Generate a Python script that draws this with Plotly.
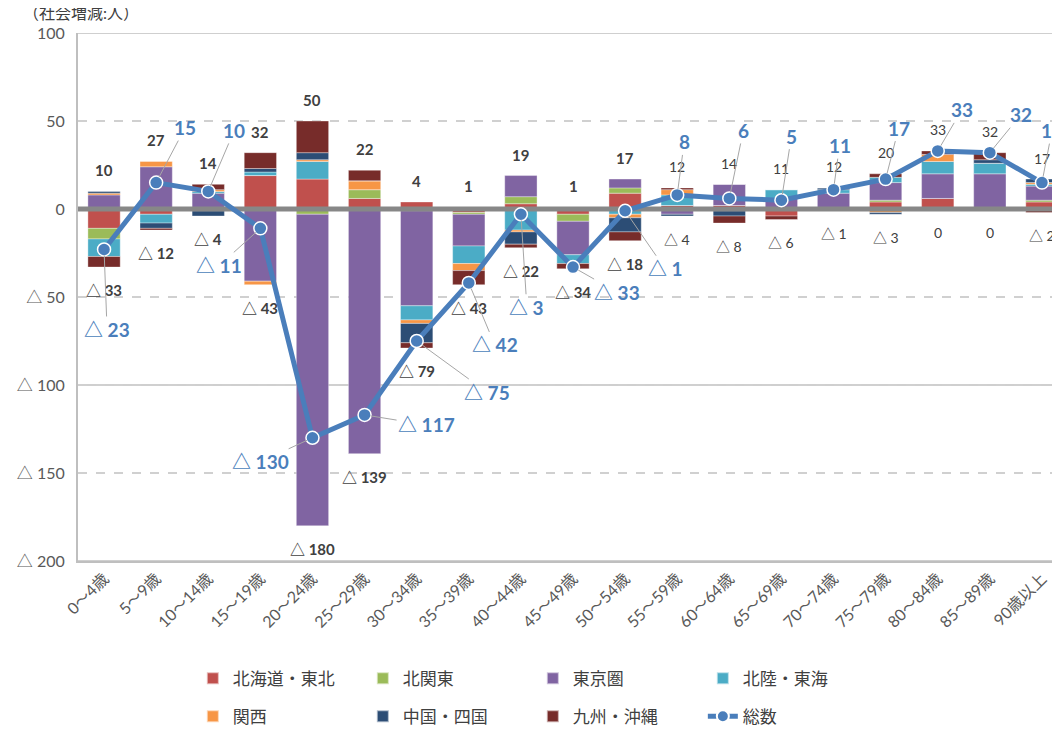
import plotly.graph_objects as go

# age groups
categories = ["0～4歳", "5～9歳", "10～14歳", "15～19歳", "20～24歳", "25～29歳",
              "30～34歳", "35～39歳", "40～44歳", "45～49歳", "50～54歳", "55～59歳",
              "60～64歳", "65～69歳", "70～74歳", "75～79歳", "80～84歳", "85～89歳",
              "90歳以上"]

# net migration by region (people)
hokkaido_tohoku = [-11, -3, -1, 19, 17, 6, 4, -2, 3, -3, 9, 2, 2, -4, -1, 4, 6, 0, 4]
kita_kanto = [-6, 0, 0, 0, -3, 5, -1, -1, 4, -4, 3, 0, 0, 0, 0, 1, 0, 0, 1]
tokyo_area = [8, 24, 9, -41, -177, -139, -54, -18, 12, -19, 5, -3, 12, 6, 9, 10, 14, 20, 8]
hokuriku_tokai = [-10, -5, 1, 2, 10, 0, -8, -10, -12, -5, -3, 6, -1, 5, 2, 3, 7, 6, 1]
kansai = [1, 3, 1, -2, 1, 5, -2, -4, -1, 0, -2, 3, 0, 0, 0, -2, 4, 0, 1]
chugoku_shikoku = [1, -3, -3, 2, 4, 0, -11, 1, -7, 1, -8, -1, -3, 0, 1, -1, 0, 2, 2]
kyushu_okinawa = [-6, -1, 3, 9, 18, 6, -3, -8, -2, -3, -5, 1, -4, -2, 0, 2, 2, 4, -2]

region_names = ["北海道・東北", "北関東", "東京圏", "北陸・東海", "関西", "中国・四国", "九州・沖縄"]
region_values = [hokkaido_tohoku, kita_kanto, tokyo_area, hokuriku_tokai, kansai,
                 chugoku_shikoku, kyushu_okinawa]
region_colors = ["#c0504d", "#9bbb59", "#8064a2", "#4bacc6", "#f79646", "#2c4d75", "#772c2a"]

y_ticks = [100, 50, 0, -50, -100, -150, -200]

# label placement (pixel offsets of total labels from their points)
total_label_offsets = [(3, 80), (29, -55), (26, -61), (-41, 37), (-52, 24), (62, 10),
                       (70, 51), (26, 62), (6, 93), (44, 25), (40, 58), (7, -53),
                       (14, -68), (10, -64), (6, -44), (13, -51), (24, -41), (31, -38),
                       (10, -52)]

BLUE = "#4a7ebb"
TEXT = "#404040"
FONT = "Lato, 'Noto Sans CJK JP', sans-serif"


def tri(v):
    return "0" if v == 0 else ("△ %d" % abs(v) if v < 0 else "%d" % v)


x = list(range(len(categories)))
pos_sum = [sum(v[i] for v in region_values if v[i] > 0) for i in x]
neg_sum = [sum(v[i] for v in region_values if v[i] < 0) for i in x]
total = [p + n for p, n in zip(pos_sum, neg_sum)]

fig = go.Figure()
for k, (name, vals, col) in enumerate(zip(region_names, region_values, region_colors)):
    fig.add_trace(go.Bar(
        x=x, y=vals, name=name,
        marker=dict(color=col, line=dict(color="rgba(255,255,255,0.6)", width=0.6)),
        legend="legend" if k < 4 else "legend2",
    ))

# heavy zero line, drawn over the bars but under the total line
fig.add_trace(go.Scatter(
    x=[-0.5, len(categories) - 0.5], y=[0, 0], mode="lines",
    line=dict(color="#878787", width=5), showlegend=False, hoverinfo="skip",
))

fig.add_trace(go.Scatter(
    x=x, y=total, name="総数", mode="lines+markers",
    line=dict(color=BLUE, width=5),
    marker=dict(color=BLUE, size=13, line=dict(color="white", width=1.5)),
    legend="legend2",
))

annotations = []
for i in x:
    small = i >= 11
    lab_font = dict(size=14 if small else 15, color=TEXT,
                    weight="normal" if small else "bold")
    annotations.append(dict(x=i, y=pos_sum[i], text=tri(pos_sum[i]), showarrow=False,
                            yshift=21, font=lab_font))
    annotations.append(dict(x=i, y=neg_sum[i], text=tri(neg_sum[i]), showarrow=False,
                            yshift=-23, font=lab_font))
    ax, ay = total_label_offsets[i]
    annotations.append(dict(
        x=i, y=total[i], text=tri(total[i]), showarrow=True, arrowhead=0,
        arrowwidth=1, arrowcolor="#a6a6a6", ax=ax, ay=ay, standoff=6,
        font=dict(size=19, color=BLUE, weight="bold"),
    ))

annotations.append(dict(
    xref="paper", yref="paper", x=-0.058, y=1.0, yshift=21, xanchor="left",
    yanchor="middle", text="（社会増減:人）", showarrow=False,
    font=dict(size=16, color=TEXT),
))

shapes = [dict(type="line", xref="paper", x0=0, x1=1, yref="y", y0=v, y1=v,
               line=dict(color="#bfbfbf", width=1.5), layer="below")
          for v in (100, -100, -200)]

legend_style = dict(orientation="h", x=0.116, xanchor="left", yanchor="middle",
                    entrywidth=125, entrywidthmode="pixels", traceorder="normal",
                    font=dict(size=17, color=TEXT), itemsizing="constant")

fig.update_layout(
    width=1060, height=731,
    barmode="relative", bargap=0.38,
    plot_bgcolor="white", paper_bgcolor="white",
    font=dict(family=FONT, color=TEXT),
    margin=dict(l=70, r=0, t=25, b=178),
    annotations=annotations, shapes=shapes,
    legend=dict(legend_style, y=-0.223),
    legend2=dict(legend_style, y=-0.295),
    xaxis=dict(range=[-0.5, 18.5], tickvals=x, ticktext=categories, tickangle=-45,
               showgrid=False, zeroline=False, showline=True, linecolor="#bfbfbf",
               linewidth=2, ticks="", automargin=False,
               tickfont=dict(size=16, color="#595959")),
    yaxis=dict(range=[-200, 100], tickvals=y_ticks, ticktext=[tri(v) for v in y_ticks],
               showgrid=True, gridcolor="#d0d0d0", griddash="dash", gridwidth=1.5,
               zeroline=False, showline=True, linecolor="#bfbfbf", linewidth=2,
               ticks="", ticklabelstandoff=8, automargin=False,
               tickfont=dict(size=16, color="#595959")),
)

fig.write_html("out.html")
